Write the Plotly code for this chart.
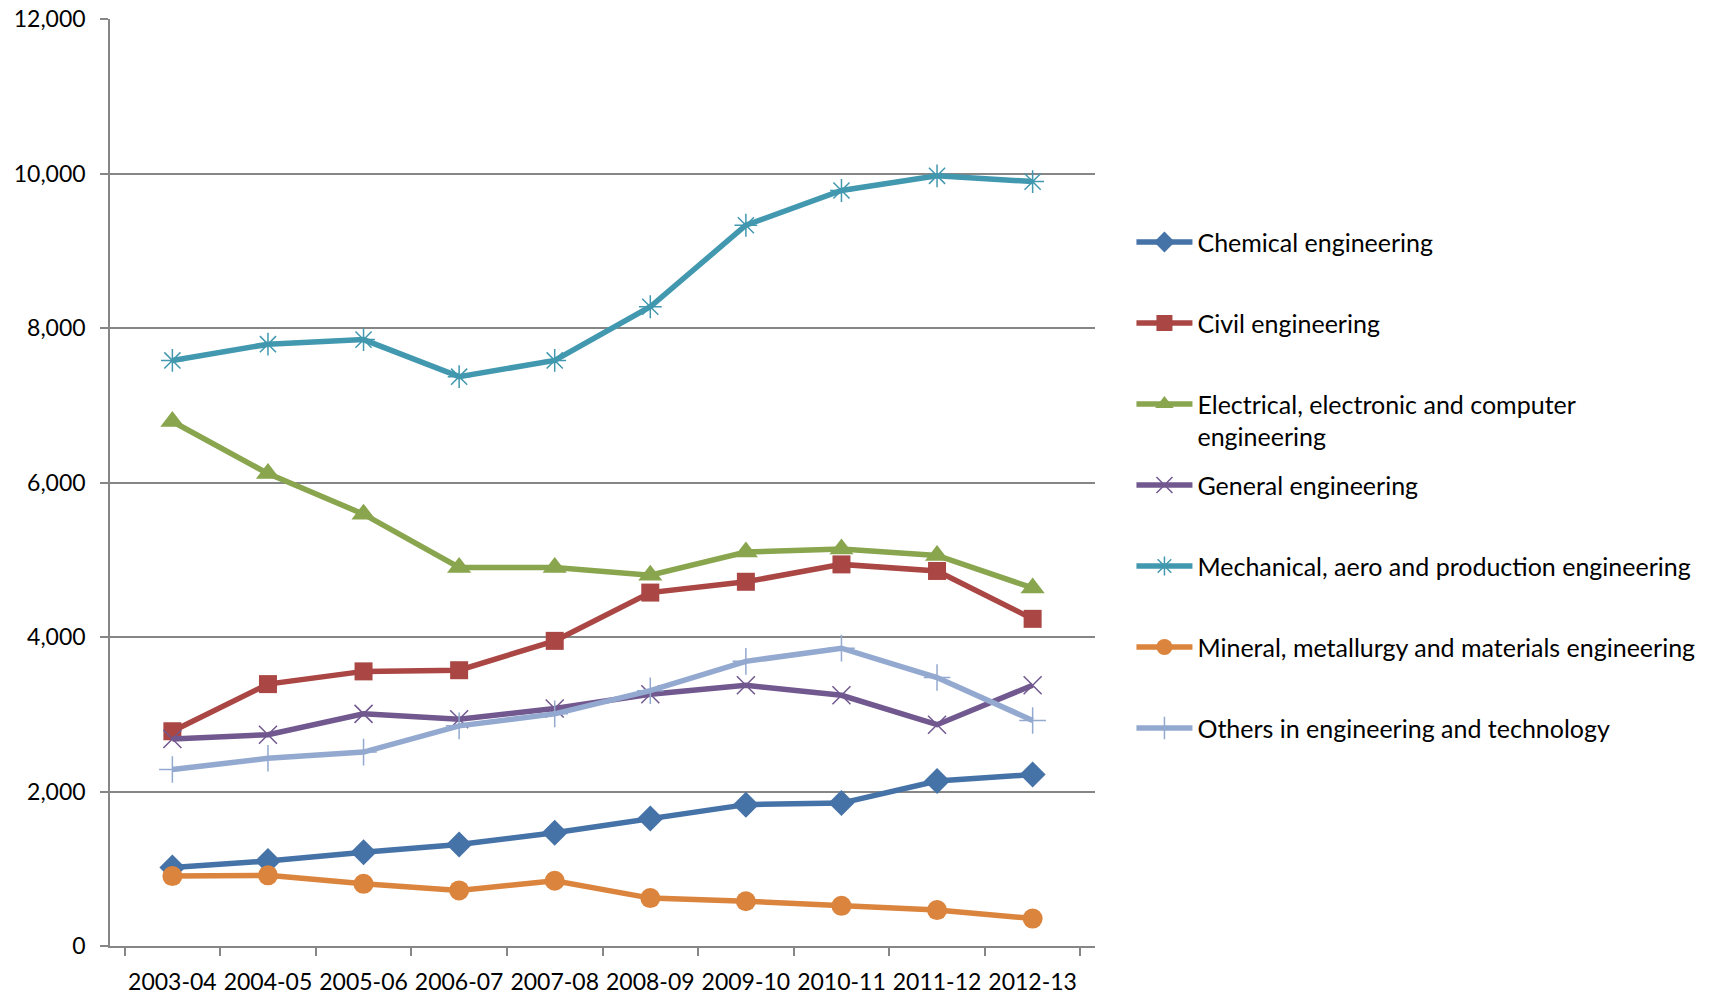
import plotly.graph_objects as go

years = ["2003-04", "2004-05", "2005-06", "2006-07", "2007-08",
         "2008-09", "2009-10", "2010-11", "2011-12", "2012-13"]

chemical = [1015, 1100, 1215, 1315, 1465, 1650, 1830, 1850, 2135, 2220]
civil = [2780, 3390, 3555, 3570, 3950, 4575, 4715, 4940, 4855, 4235]
electrical = [6790, 6115, 5590, 4900, 4900, 4800, 5100, 5140, 5055, 4635]
general = [2680, 2735, 3005, 2935, 3075, 3260, 3375, 3245, 2865, 3375]
mechanical = [7580, 7790, 7850, 7370, 7580, 8275, 9330, 9780, 9970, 9895]
mineral = [905, 915, 805, 720, 845, 620, 580, 520, 465, 355]
others = [2285, 2430, 2510, 2850, 3005, 3305, 3685, 3855, 3475, 2920]

FONT = "Lato"
FSIZE = 25
TICKSIZE = 23

series = [
    ("Chemical engineering", chemical, "#4572A7", "diamond", 20),
    ("Civil engineering", civil, "#AA4643", "square", 18),
    ("Electrical, electronic and computer<br>engineering", electrical, "#89A54E", "triangle-up", 21),
    ("General engineering", general, "#71588F", "x-thin-open", 18),
    ("Mechanical, aero and production engineering", mechanical, "#4198AF", "asterisk-open", 19),
    ("Mineral, metallurgy and materials engineering", mineral, "#DB843D", "circle", 20),
    ("Others in engineering and technology", others, "#93A9CF", "cross-thin-open", 19),
]

fig = go.Figure()
for i, (name, vals, color, symbol, size) in enumerate(series):
    # every label gets two lines so legend rows are evenly spaced like Excel
    label = name if "<br>" in name else name + "<br> "
    open_sym = symbol.endswith("open")
    fig.add_trace(go.Scatter(
        x=years, y=vals, name=label, mode="lines+markers",
        legendgroup=str(i),
        line=dict(color=color, width=5.5),
        marker=dict(symbol=symbol, size=size, color=color,
                    line=dict(color=color, width=1.5 if open_sym else 0)),
    ))

fig.update_layout(
    width=1714, height=994,
    margin=dict(l=110, r=619, t=19, b=48),
    paper_bgcolor="white", plot_bgcolor="white",
    font=dict(family=FONT, size=FSIZE, color="black"),
    legend=dict(
        x=1.037, y=0.784, xanchor="left", yanchor="top",
        valign="top", itemwidth=56, tracegroupgap=13,
        font=dict(family=FONT, size=FSIZE, color="black"),
    ),
    xaxis=dict(
        type="category", tickson="boundaries", tickangle=0, automargin=False,
        showline=True, linecolor="#868686", linewidth=1.5,
        ticks="outside", ticklen=8, tickcolor="#868686", tickwidth=1.5,
        showgrid=False, ticklabelstandoff=15,
        tickfont=dict(family=FONT, size=TICKSIZE),
    ),
    yaxis=dict(
        range=[0, 12000], tickvals=[0, 2000, 4000, 6000, 8000, 10000, 12000],
        tickformat=",", showline=True, linecolor="#868686", linewidth=1.5,
        ticks="outside", ticklen=8, tickcolor="#868686", tickwidth=1.5,
        showgrid=True, gridcolor="#868686", gridwidth=1.5, automargin=False,
        zeroline=False, ticklabelstandoff=10, ticklabeloverflow="allow",
        tickfont=dict(family=FONT, size=TICKSIZE),
    ),
)

# drop the browser's default 8px body margin so the figure fills the window
fig.write_html(
    "out.html",
    config={"displayModeBar": False},
    post_script="document.body.style.margin = '0';",
)
